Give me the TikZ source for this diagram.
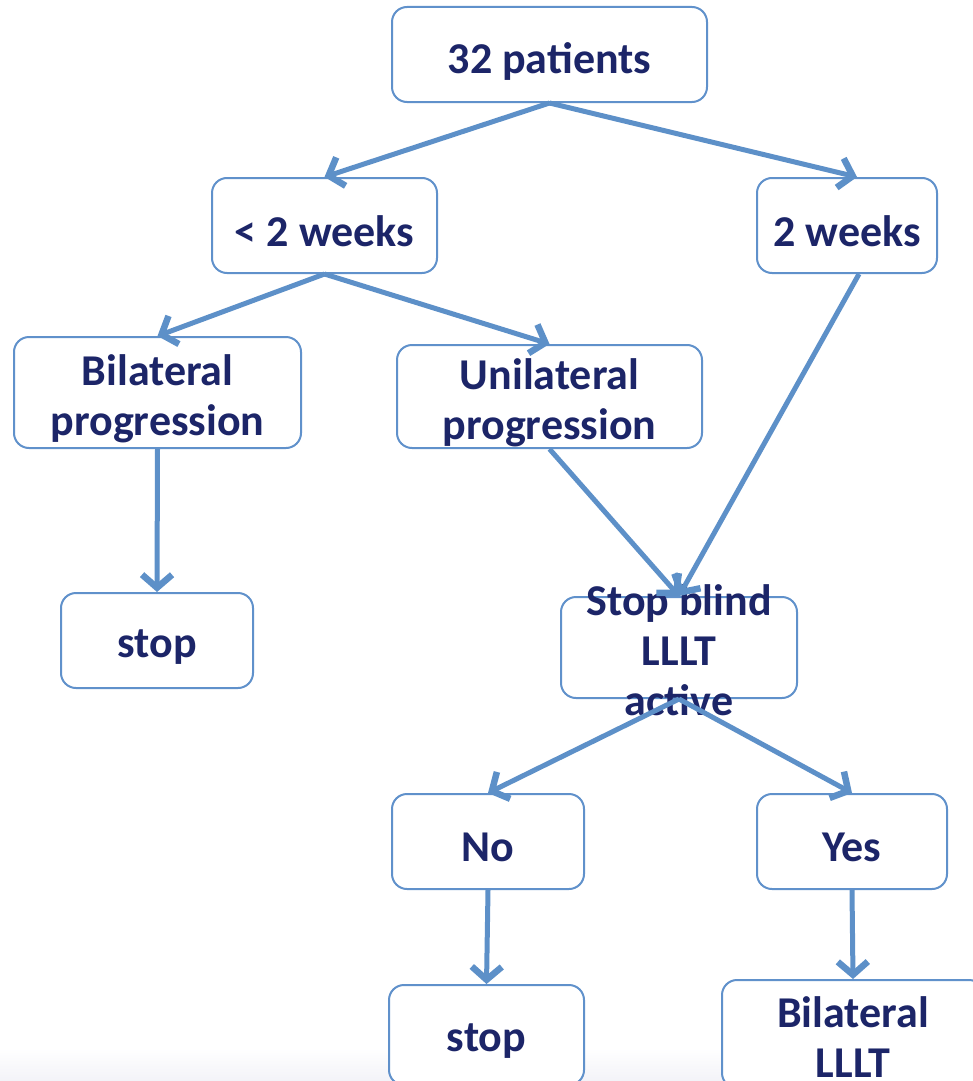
\documentclass[tikz,border=0pt]{standalone}
\usepackage{fontspec}
\setmainfont{Carlito}
\usetikzlibrary{arrows.meta}
\definecolor{boxline}{RGB}{96,145,203}
\definecolor{arrowblue}{RGB}{93,144,200}
\definecolor{navytext}{RGB}{28,37,104}
\definecolor{pagegray}{RGB}{243,243,248}
\begin{document}
\begin{tikzpicture}[x=1pt,y=-1pt,
  box/.style={draw=boxline, line width=2pt, fill=white, rounded corners=15pt, rectangle, inner sep=0pt},
  lbl/.style={text=navytext, font=\fontsize{44}{50}\selectfont\bfseries, align=center},
  flow/.style={draw=arrowblue, line width=5pt, -{Straight Barb[length=13pt,width=30pt,line width=6.5pt]}}]
\useasboundingbox (0,0) rectangle (973,1081);
\clip (0,0) rectangle (973,1081);
\shade[top color=white, bottom color=pagegray] (0,1048) rectangle (973,1081);

\node[box, minimum width=315pt, minimum height=95pt] (pat) at (549.5,54.5) {};
\node[box, minimum width=225pt, minimum height=95pt] (lt2) at (324.5,225.5) {};
\node[box, minimum width=180pt, minimum height=95pt] (wk2) at (847,225.5) {};
\node[box, minimum width=287pt, minimum height=111pt] (bil) at (157.5,392.5) {};
\node[box, minimum width=305pt, minimum height=103pt] (uni) at (549.5,396.5) {};
\node[box, minimum width=192pt, minimum height=95pt] (stopl) at (157,640.5) {};
\node[box, minimum width=236pt, minimum height=101pt] (sbl) at (679,647.5) {};
\node[box, minimum width=192pt, minimum height=95pt] (no) at (488,841.5) {};
\node[box, minimum width=190pt, minimum height=95pt] (yes) at (852,841.5) {};
\node[box, minimum width=195pt, minimum height=100pt] (stopb) at (486.5,1035) {};
\node[box, minimum width=262pt, minimum height=108pt] (bilL) at (853,1034) {};

\node[lbl] (pattxt) at ([yshift=-7pt]pat.center) {32 patients};
\node[lbl] (lt2txt) at ([yshift=-6pt]lt2.center) {< 2 weeks};
\node[lbl] (wk2txt) at ([yshift=-6pt]wk2.center) {2 weeks};
\node[lbl] (biltxt) at ([yshift=-6pt]bil.center) {Bilateral\\progression};
\node[lbl] (unitxt) at ([yshift=-6pt]uni.center) {Unilateral\\progression};
\node[lbl] (stopltxt) at ([yshift=-7pt]stopl.center) {stop};
\node[lbl] (sbltxt) at ([yshift=-3pt]sbl.center) {Stop blind\\LLLT\\active};
\node[lbl] (notxt) at ([yshift=-6pt]no.center) {No};
\node[lbl] (yestxt) at ([yshift=-6pt]yes.center) {Yes};
\node[lbl] (stopbtxt) at ([yshift=-6pt]stopb.center) {stop};
\node[lbl] (bilLtxt) at ([yshift=-3pt]bilL.center) {Bilateral\\LLLT};

\draw[flow] (pat.south) -- (lt2.north);
\draw[flow] (pat.south) -- ([xshift=10pt]wk2.north);
\draw[flow] (lt2.south) -- (bil.north);
\draw[flow] (lt2.south) -- (uni.north);
\draw[flow] ([xshift=12pt]wk2.south) -- (sbl.north);
\draw[flow] (uni.south) -- (sbl.north);
\draw[flow] (bil.south) -- (stopl.north);
\draw[flow] (sbl.south) -- (no.north);
\draw[flow] (sbl.south) -- (yes.north);
\draw[flow] (no.south) -- (stopb.north);
\draw[flow] (yes.south) -- (bilL.north);
\end{tikzpicture}
\end{document}
